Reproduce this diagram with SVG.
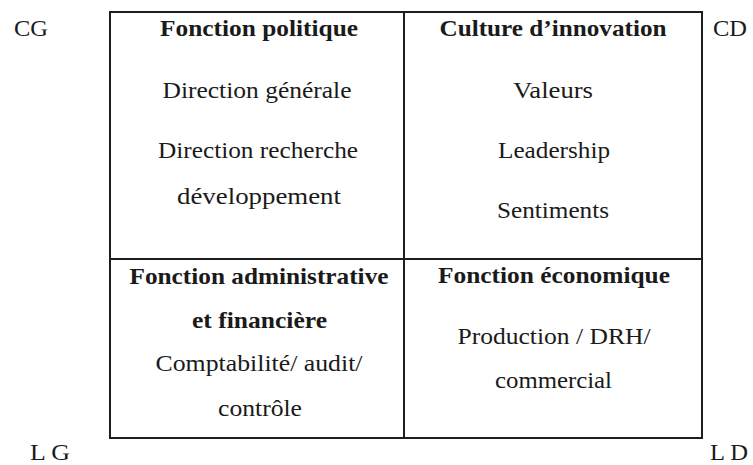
<svg xmlns="http://www.w3.org/2000/svg" width="753" height="465" viewBox="0 0 753 465">
<style>
text{font-family:'Liberation Serif','DejaVu Serif',serif;font-size:24px;fill:#1a1a1a}
.t{font-weight:bold}
.c{text-anchor:middle}
.ln{stroke:#1e1e1e;stroke-width:2;fill:none}
</style>
<rect width="753" height="465" fill="#fff"/>
<g id="frame">
<rect class="ln" x="110" y="12" width="592" height="426"/>
<line class="ln" x1="404" y1="12" x2="404" y2="438"/>
<line class="ln" x1="110" y1="259" x2="702" y2="259"/>
</g>
<g id="corners">
<text x="14" y="36" textLength="34" lengthAdjust="spacingAndGlyphs">CG</text>
<text x="713" y="36" textLength="34" lengthAdjust="spacingAndGlyphs">CD</text>
<text x="30" y="460" textLength="40" lengthAdjust="spacingAndGlyphs">L G</text>
<text x="710" y="460" textLength="38" lengthAdjust="spacingAndGlyphs">L D</text>
</g>
<g id="politique">
<text class="t c" x="259" y="36" textLength="198" lengthAdjust="spacingAndGlyphs">Fonction politique</text>
<text class="c" x="257" y="98" textLength="189" lengthAdjust="spacingAndGlyphs">Direction générale</text>
<text class="c" x="258" y="158" textLength="200" lengthAdjust="spacingAndGlyphs">Direction recherche</text>
<text class="c" x="259" y="204" textLength="164" lengthAdjust="spacingAndGlyphs">développement</text>
</g>
<g id="culture">
<text class="t c" x="553" y="36" textLength="227" lengthAdjust="spacingAndGlyphs">Culture d’innovation</text>
<text class="c" x="553" y="98" textLength="80" lengthAdjust="spacingAndGlyphs">Valeurs</text>
<text class="c" x="554" y="158" textLength="112" lengthAdjust="spacingAndGlyphs">Leadership</text>
<text class="c" x="553" y="218" textLength="112" lengthAdjust="spacingAndGlyphs">Sentiments</text>
</g>
<g id="administrative">
<text class="t c" x="259" y="284" textLength="259" lengthAdjust="spacingAndGlyphs">Fonction administrative</text>
<text class="t c" x="259.5" y="328" textLength="135" lengthAdjust="spacingAndGlyphs">et financière</text>
<text class="c" x="259" y="371" textLength="207" lengthAdjust="spacingAndGlyphs">Comptabilité/ audit/</text>
<text class="c" x="260" y="416" textLength="84" lengthAdjust="spacingAndGlyphs">contrôle</text>
</g>
<g id="economique">
<text class="t c" x="554" y="283" textLength="232" lengthAdjust="spacingAndGlyphs">Fonction économique</text>
<text class="c" x="554" y="344" textLength="193" lengthAdjust="spacingAndGlyphs">Production / DRH/</text>
<text class="c" x="553.5" y="388" textLength="117" lengthAdjust="spacingAndGlyphs">commercial</text>
</g>
</svg>
